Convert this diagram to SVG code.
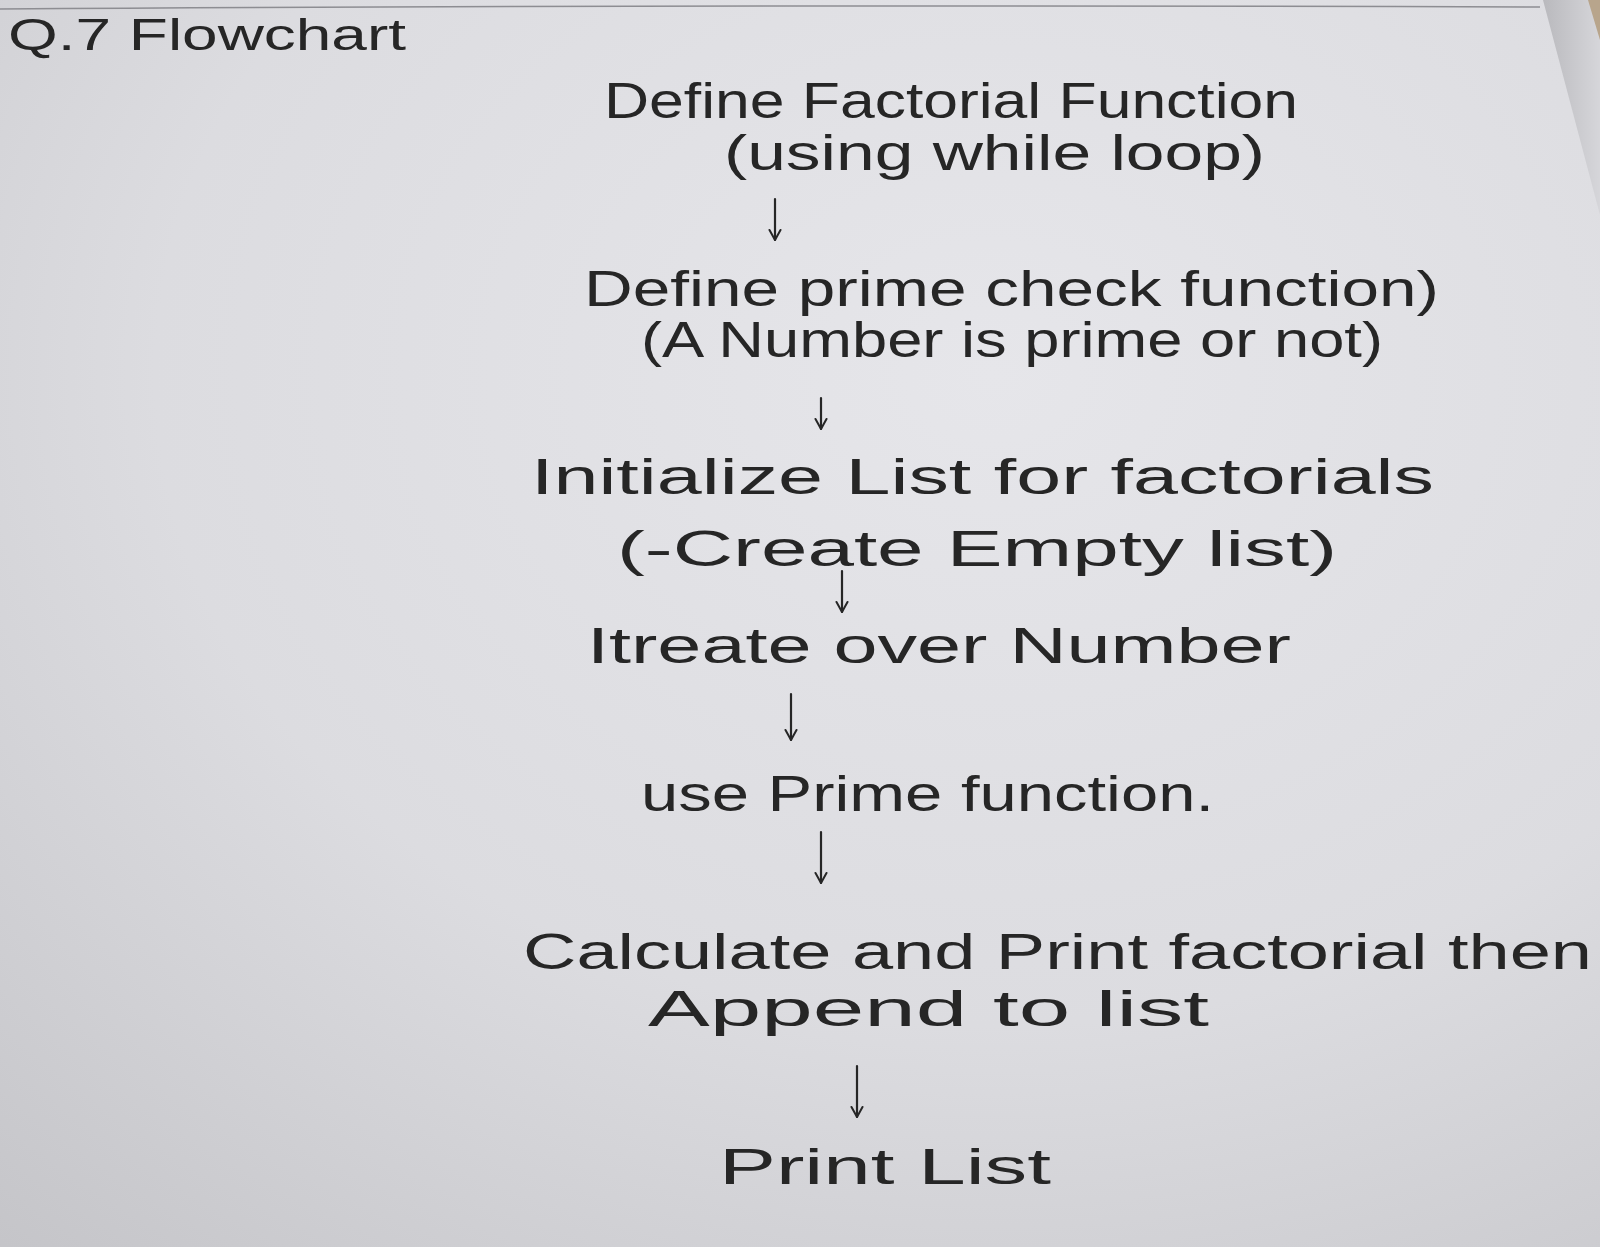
<svg xmlns="http://www.w3.org/2000/svg" width="1600" height="1247" viewBox="0 0 1600 1247">
  <defs>
    <radialGradient id="paper" cx="0.62" cy="0.3" r="0.95">
      <stop offset="0" stop-color="#e6e6ea"/>
      <stop offset="0.55" stop-color="#dcdce0"/>
      <stop offset="1" stop-color="#c4c4c8"/>
    </radialGradient>
    <linearGradient id="edge" x1="0" y1="0" x2="1" y2="0">
      <stop offset="0" stop-color="#b9b9bd"/>
      <stop offset="1" stop-color="#d6d6da"/>
    </linearGradient>
    <!-- open V arrowhead, drawn along +x so orient="auto" turns it down the stem -->
    <marker id="head" viewBox="0 0 14 14" refX="13" refY="7" markerWidth="14" markerHeight="14" markerUnits="userSpaceOnUse" orient="auto">
      <path d="M3,1.5 L13,7 L3,12.5" fill="none" stroke="#262626" stroke-width="2" stroke-linecap="round" stroke-linejoin="round"/>
    </marker>
    <style>
      .hand { font-family: "Liberation Sans", "DejaVu Sans", sans-serif; fill: #262626; font-size: 50px; }
      .title { font-size: 44px; }
      .flow { fill: none; stroke: #262626; stroke-width: 2.2; stroke-linecap: round; marker-end: url(#head); }
    </style>
  </defs>

  <!-- sheet of paper -->
  <rect x="0" y="0" width="1600" height="1247" fill="url(#paper)"/>
  <!-- page edge along the top -->
  <path d="M0,9 Q700,4 1540,7" fill="none" stroke="#8d8d92" stroke-width="1.5"/>
  <!-- neighbouring page at the right -->
  <path d="M1543,0 L1600,0 L1600,215 Z" fill="url(#edge)"/>
  <path d="M1588,0 L1600,0 L1600,40 Z" fill="#b8a58c"/>

  <g id="heading">
    <text class="hand title" x="8" y="50" textLength="398" lengthAdjust="spacingAndGlyphs">Q.7 Flowchart</text>
  </g>

  <g id="connectors">
    <path class="flow" d="M775,199 L775,240"/>
    <path class="flow" d="M821,398 L821,429"/>
    <path class="flow" d="M842,571 L842,612"/>
    <path class="flow" d="M791,694 L791,740"/>
    <path class="flow" d="M821,832 L821,883"/>
    <path class="flow" d="M857,1066 L857,1117"/>
  </g>

  <g id="node-define-factorial">
    <text class="hand" x="604" y="118" textLength="694" lengthAdjust="spacingAndGlyphs">Define Factorial Function</text>
    <text class="hand" x="724" y="170" textLength="541" lengthAdjust="spacingAndGlyphs">(using while loop)</text>
  </g>

  <g id="node-define-prime">
    <text class="hand" x="584" y="306" textLength="855" lengthAdjust="spacingAndGlyphs">Define prime check function)</text>
    <text class="hand" x="641" y="357" textLength="742" lengthAdjust="spacingAndGlyphs">(A Number is prime or not)</text>
  </g>

  <g id="node-init-list">
    <text class="hand" x="531" y="494" textLength="903" lengthAdjust="spacingAndGlyphs">Initialize List for factorials</text>
    <text class="hand" x="617" y="566" textLength="720" lengthAdjust="spacingAndGlyphs">(-Create Empty list)</text>
  </g>

  <g id="node-iterate">
    <text class="hand" x="587" y="663" textLength="704" lengthAdjust="spacingAndGlyphs">Itreate over Number</text>
  </g>

  <g id="node-use-prime">
    <text class="hand" x="641" y="811" textLength="573" lengthAdjust="spacingAndGlyphs">use Prime function.</text>
  </g>

  <g id="node-calculate">
    <text class="hand" x="523" y="969" textLength="1069" lengthAdjust="spacingAndGlyphs">Calculate and Print factorial then</text>
    <text class="hand" x="648" y="1026" textLength="561" lengthAdjust="spacingAndGlyphs">Append to list</text>
  </g>

  <g id="node-print-list">
    <text class="hand" x="719" y="1184" textLength="332" lengthAdjust="spacingAndGlyphs">Print List</text>
  </g>
</svg>
